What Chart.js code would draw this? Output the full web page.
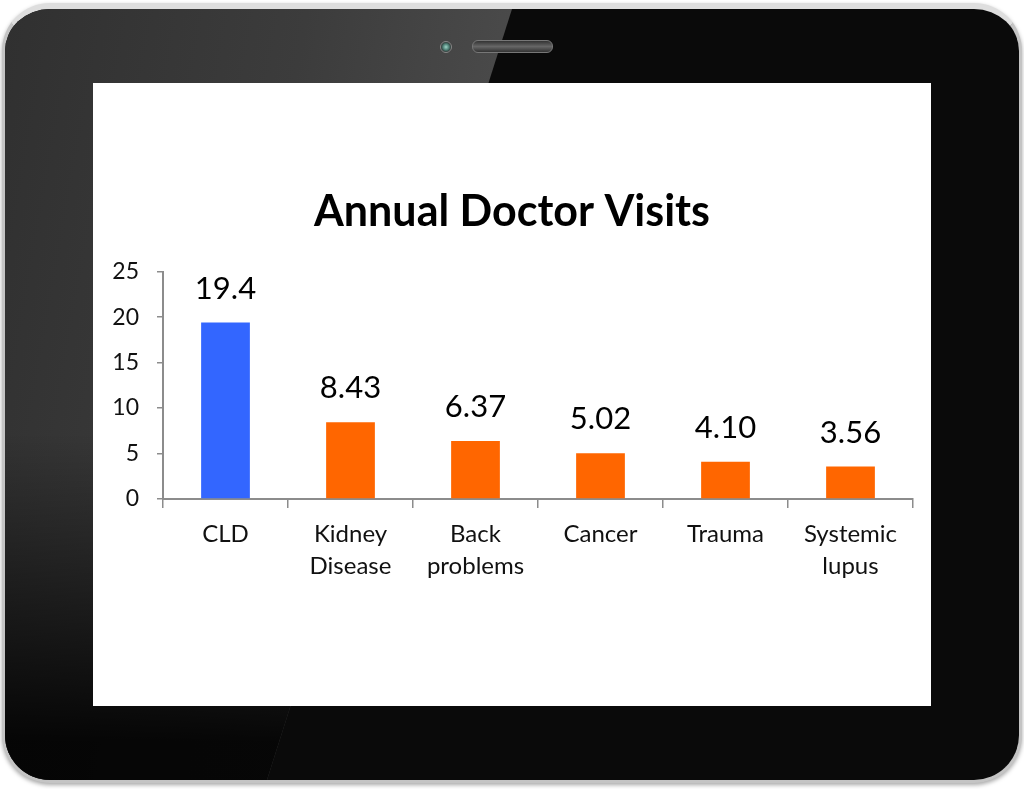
<!DOCTYPE html>
<html>
<head>
<meta charset="utf-8">
<script src="https://cdn.jsdelivr.net/npm/chart.js@4/dist/chart.umd.min.js"></script>
<style>
  html, body { margin: 0; padding: 0; background: #fff; }
  body { width: 1024px; height: 789px; position: relative; overflow: hidden; }
  #tablet {
    position: absolute; left: 2px; top: 3px; width: 1020px; height: 780px;
    box-sizing: border-box;
    border: 3px solid #c4c4c4; border-top: 6px solid #dedede;
    border-radius: 48px;
    background: #0a0a0a;
    box-shadow: 0 2px 4px rgba(0,0,0,0.35);
    overflow: hidden;
  }
  #glare {
    position: absolute; left: 0; top: 0; width: 620px; height: 100%;
    clip-path: polygon(0 0, 507px 0, 262px 100%, 0 100%);
    background:
      linear-gradient(to bottom, rgba(255,255,255,0.0) 0%, rgba(255,255,255,0.0) 55%, rgba(0,0,0,0.9) 95%),
      linear-gradient(100deg, #303030 0%, #3c3c3c 40%, #5a5a5a 100%);
  }
  #screen {
    position: absolute; left: 93px; top: 83px; width: 838px; height: 623px;
    background: #fff;
  }
  #camera {
    position: absolute; left: 440px; top: 41px; width: 10px; height: 10px;
    border-radius: 50%;
    background: radial-gradient(circle, #9fd6c8 0%, #4a7a70 45%, #2a2a2a 75%);
    border: 1px solid #888;
  }
  #speaker {
    position: absolute; left: 472px; top: 40px; width: 79px; height: 11px;
    border-radius: 6px;
    background: linear-gradient(to bottom, #333, #666 50%, #333);
    border: 1px solid #777;
  }
</style>
</head>
<body>
<div id="tablet"><div id="glare"></div></div>
<div id="camera"></div>
<div id="speaker"></div>
<div id="screen"><canvas id="chart"></canvas></div>
<script>
  const categories = [["CLD"], ["Kidney", "Disease"], ["Back", "problems"], ["Cancer"], ["Trauma"], ["Systemic", "lupus"]];
  const visits = [19.4, 8.43, 6.37, 5.02, 4.10, 3.56];
  const barColors = ["#3366FF", "#FF6600", "#FF6600", "#FF6600", "#FF6600", "#FF6600"];
  const yMin = 0;
  const yMax = 25;
  const yStep = 5;

  const axisGray = "#8c8c8c";

  // number above each bar, 3 significant figures like the original slide
  const valueLabels = {
    id: "valueLabels",
    afterDatasetsDraw(chart) {
      const ctx = chart.ctx;
      const meta = chart.getDatasetMeta(0);
      ctx.save();
      ctx.font = "31px Lato";
      ctx.fillStyle = "#000";
      ctx.textAlign = "center";
      ctx.textBaseline = "middle";
      meta.data.forEach((bar, i) => {
        ctx.fillText(visits[i].toPrecision(3), bar.x, bar.y - 34);
      });
      ctx.restore();
    }
  };

  const ctx = document.getElementById("chart").getContext("2d");

  new Chart(ctx, {
    type: "bar",
    data: {
      labels: categories,
      datasets: [{
        data: visits,
        backgroundColor: barColors,
        borderWidth: 0,
        categoryPercentage: 1,
        barPercentage: 0.39
      }]
    },
    options: {
      responsive: true,
      maintainAspectRatio: false,
      animation: false,
      devicePixelRatio: 1,
      layout: { padding: { left: 18, right: 18, top: 0, bottom: 0 } },
      plugins: {
        legend: { display: false },
        tooltip: { enabled: false },
        title: {
          display: true,
          text: "Annual Doctor Visits",
          color: "#000",
          font: { family: "Lato", size: 43, weight: "bold" },
          padding: { top: 103, bottom: 34 }
        }
      },
      scales: {
        x: {
          grid: { display: true, drawOnChartArea: false, tickLength: 9, color: axisGray, lineWidth: 1.5 },
          border: { color: axisGray, width: 2 },
          ticks: {
            color: "#111",
            padding: 10,
            maxRotation: 0,
            font: { family: "Lato", size: 24, lineHeight: 1.333 }
          },
          afterFit: (scale) => { scale.height = 207; }
        },
        y: {
          min: yMin,
          max: yMax,
          grid: { display: true, drawOnChartArea: false, tickLength: 6, color: axisGray, lineWidth: 1.5 },
          border: { color: axisGray, width: 2 },
          ticks: {
            stepSize: yStep,
            color: "#111",
            padding: 18,
            font: { family: "Lato", size: 23 }
          },
          afterFit: (scale) => { scale.width = 52; }
        }
      }
    },
    plugins: [valueLabels]
  });
</script>
</body>
</html>
